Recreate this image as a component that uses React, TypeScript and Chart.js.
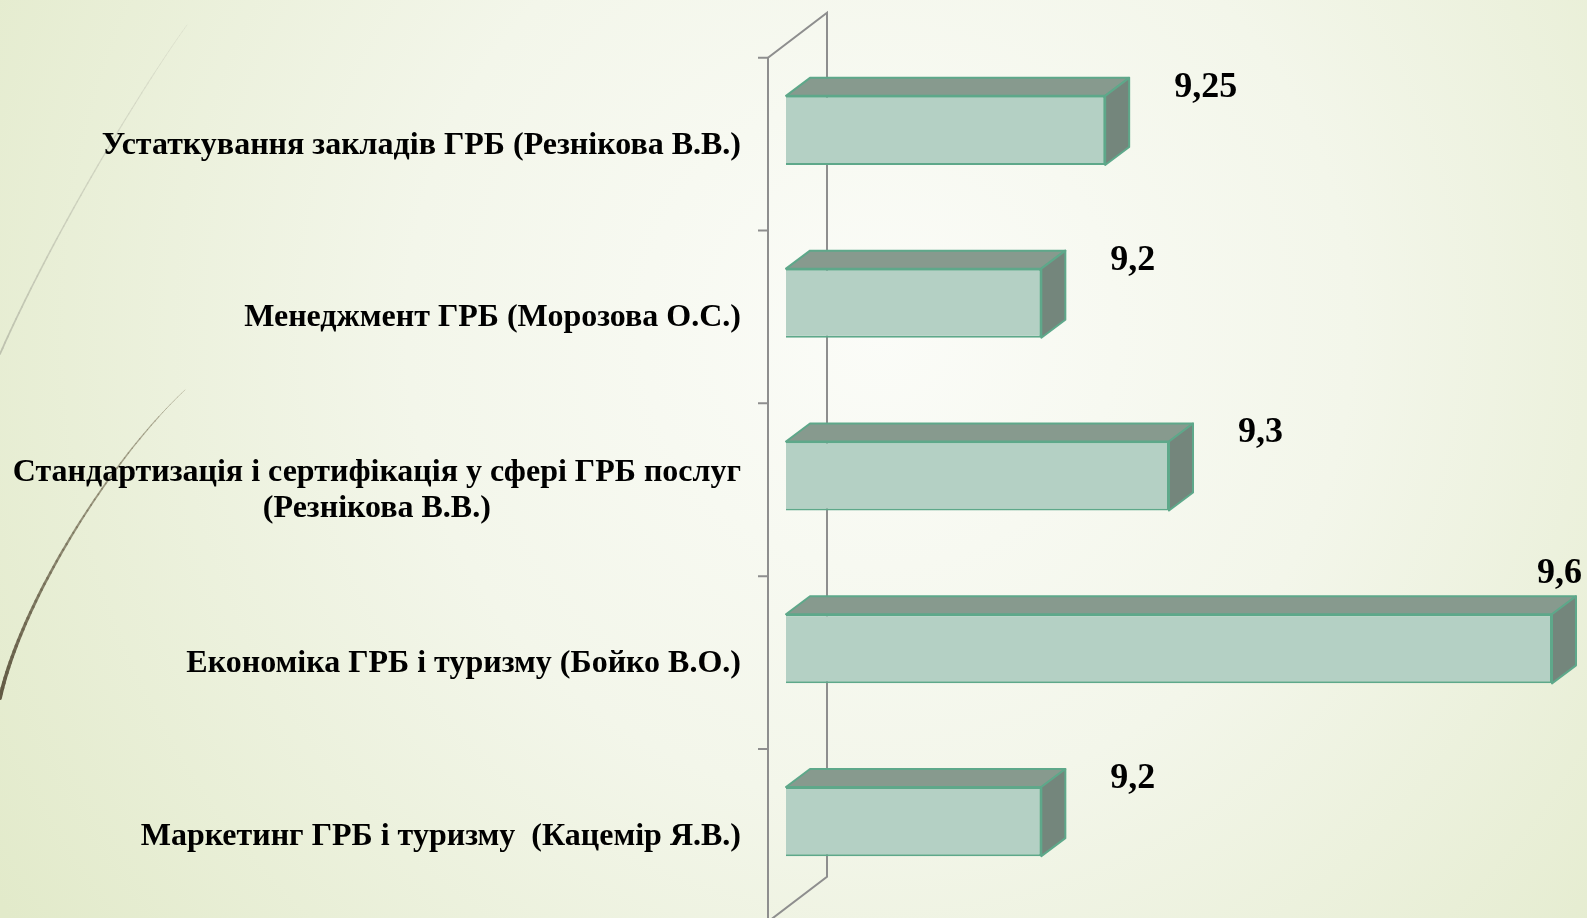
import React, { useEffect, useRef } from "react";
import { Chart, registerables } from "chart.js";

Chart.register(...registerables);

const categories: string[][] = [
  ["Устаткування закладів ГРБ (Резнікова В.В.)"],
  ["Менеджмент ГРБ (Морозова О.С.)"],
  ["Стандартизація і сертифікація у сфері ГРБ послуг", "(Резнікова В.В.)"],
  ["Економіка ГРБ і туризму (Бойко В.О.)"],
  ["Маркетинг ГРБ і туризму  (Кацемір Я.В.)"],
];
const scores = [9.25, 9.2, 9.3, 9.6, 9.2];
const axisMin = 9.0;
const axisMax = 9.6;

const W = 1587;
const H = 918;

const FRONT = "#b4d0c4";
const EDGE = "#5ea88a";
const TOP = "#879a8e";
const SIDE = "#74867c";
const AXIS = "#8e8e8e";

const BAR_DX = 24;
const BAR_DY = 18;
const FRAME_DX = 59;
const FRAME_DY = 45;
const FRONT_GAP = 18;

const fmt = (v: number) => String(v).replace(".", ",");

function drawTaper(
  ctx: CanvasRenderingContext2D,
  p: number[][],
  w0: number,
  w1: number,
  c0: number[],
  c1: number[]
) {
  const n = 60;
  const pt = (t: number) => {
    const u = 1 - t;
    return [
      u * u * u * p[0][0] + 3 * u * u * t * p[1][0] + 3 * u * t * t * p[2][0] + t * t * t * p[3][0],
      u * u * u * p[0][1] + 3 * u * u * t * p[1][1] + 3 * u * t * t * p[2][1] + t * t * t * p[3][1],
    ];
  };
  ctx.save();
  ctx.lineCap = "round";
  let prev = pt(0);
  for (let i = 1; i <= n; i++) {
    const t = i / n;
    const cur = pt(t);
    const c = c0.map((v, k) => v + (c1[k] - v) * t);
    ctx.strokeStyle = `rgba(${c[0]},${c[1]},${c[2]},${c[3]})`;
    ctx.lineWidth = w0 + (w1 - w0) * t;
    ctx.beginPath();
    ctx.moveTo(prev[0], prev[1]);
    ctx.lineTo(cur[0], cur[1]);
    ctx.stroke();
    prev = cur;
  }
  ctx.restore();
}

const decorPlugin = {
  id: "decor3d",
  beforeDraw(chart: any) {
    const ctx: CanvasRenderingContext2D = chart.ctx;
    ctx.save();
    const g = ctx.createRadialGradient(880, 330, 0, 880, 330, 1050);
    g.addColorStop(0, "#fbfcf8");
    g.addColorStop(0.45, "#f3f6ea");
    g.addColorStop(1, "#e2eaca");
    ctx.fillStyle = g;
    ctx.fillRect(0, 0, W, H);
    ctx.restore();
    drawTaper(ctx, [[187, 25], [140, 90], [50, 240], [0, 354]], 0.8, 1.8, [215, 218, 200, 0.6], [190, 194, 175, 1]);
    drawTaper(ctx, [[185, 390], [112, 458], [22, 600], [0, 698]], 0.6, 3.8, [150, 145, 120, 0.6], [98, 90, 68, 1]);
  },
  beforeDatasetsDraw(chart: any) {
    const ctx: CanvasRenderingContext2D = chart.ctx;
    const area = chart.chartArea;
    const fx = area.left - FRONT_GAP;
    const shift = (FRONT_GAP * FRAME_DY) / FRAME_DX;
    const fTop = area.top + shift;
    const fBot = area.bottom + shift;
    const bx = fx + FRAME_DX;
    ctx.save();
    ctx.strokeStyle = AXIS;
    ctx.lineWidth = 2;
    ctx.beginPath();
    ctx.moveTo(fx, fBot);
    ctx.lineTo(fx, fTop);
    ctx.lineTo(bx, fTop - FRAME_DY);
    ctx.lineTo(bx, fBot - FRAME_DY);
    ctx.lineTo(fx, fBot);
    ctx.stroke();
    const n = chart.data.labels.length;
    const slot = (area.bottom - area.top) / n;
    ctx.beginPath();
    for (let i = 0; i < n; i++) {
      const y = fTop + i * slot;
      ctx.moveTo(fx - 10, y);
      ctx.lineTo(fx, y);
    }
    ctx.stroke();
    ctx.restore();
  },
  afterDatasetsDraw(chart: any) {
    const ctx: CanvasRenderingContext2D = chart.ctx;
    const area = chart.chartArea;
    const meta = chart.getDatasetMeta(0);
    ctx.save();
    ctx.lineWidth = 2;
    ctx.strokeStyle = EDGE;
    ctx.lineJoin = "round";
    meta.data.forEach((el: any, i: number) => {
      const p = el.getProps(["x", "y", "base", "height"], true);
      const x = p.x;
      const base = Math.max(p.base, area.left);
      const top = p.y - p.height / 2;
      const bot = p.y + p.height / 2;
      ctx.fillStyle = TOP;
      ctx.beginPath();
      ctx.moveTo(base, top);
      ctx.lineTo(base + BAR_DX, top - BAR_DY);
      ctx.lineTo(x + BAR_DX, top - BAR_DY);
      ctx.lineTo(x, top);
      ctx.closePath();
      ctx.fill();
      ctx.stroke();
      ctx.fillStyle = SIDE;
      ctx.beginPath();
      ctx.moveTo(x, top);
      ctx.lineTo(x + BAR_DX, top - BAR_DY);
      ctx.lineTo(x + BAR_DX, bot - BAR_DY);
      ctx.lineTo(x, bot);
      ctx.closePath();
      ctx.fill();
      ctx.stroke();

      ctx.fillStyle = "#000";
      ctx.font = 'bold 36px "Liberation Serif"';
      ctx.textAlign = "left";
      ctx.textBaseline = "alphabetic";
      const txt = fmt(scores[i]);
      const tw = ctx.measureText(txt).width;
      let lx = x + BAR_DX + 45;
      let ly = top + 1;
      if (lx + tw > W - 5) {
        lx = W - 5 - tw;
        ly = top - BAR_DY - 13;
      }
      ctx.fillText(txt, lx, ly);
    });

    const yScale = chart.scales.y;
    ctx.font = 'bold 32px "Liberation Serif"';
    ctx.fillStyle = "#000";
    ctx.textAlign = "center";
    ctx.textBaseline = "middle";
    const right = area.left - 45;
    const lh = 36.4;
    categories.forEach((lines, i) => {
      const bw = Math.max(...lines.map((l) => ctx.measureText(l).width));
      const cx = right - bw / 2;
      const cy = yScale.getPixelForValue(i) + 15;
      lines.forEach((l, j) => {
        ctx.fillText(l, cx, cy + (j - (lines.length - 1) / 2) * lh);
      });
    });
    ctx.restore();
  },
};

export default function App() {
  const ref = useRef<HTMLCanvasElement>(null);
  useEffect(() => {
    if (!ref.current) return;
    const chart = new Chart(ref.current, {
      type: "bar",
      data: {
        labels: categories.map((c) => c.join(" ")),
        datasets: [
          {
            data: scores,
            backgroundColor: FRONT,
            borderColor: EDGE,
            borderWidth: 2,
            barPercentage: 0.4,
            categoryPercentage: 1,
          },
        ],
      },
      options: {
        indexAxis: "y",
        animation: false,
        responsive: false,
        devicePixelRatio: 1,
        layout: { padding: { top: 44, bottom: 10, right: 35, left: 0 } },
        plugins: { legend: { display: false }, tooltip: { enabled: false } },
        scales: {
          x: { min: axisMin, max: axisMax, display: false },
          y: {
            grid: { display: false, drawTicks: false },
            border: { display: false },
            ticks: { display: false },
            afterFit: (scale: any) => {
              scale.width = 786;
            },
          },
        },
      },
      plugins: [decorPlugin],
    } as any);
    return () => chart.destroy();
  }, []);
  return (
    <div style={{ position: "fixed", left: 0, top: 0, width: W, height: H }}>
      <canvas ref={ref} width={W} height={H} style={{ display: "block" }} />
    </div>
  );
}
